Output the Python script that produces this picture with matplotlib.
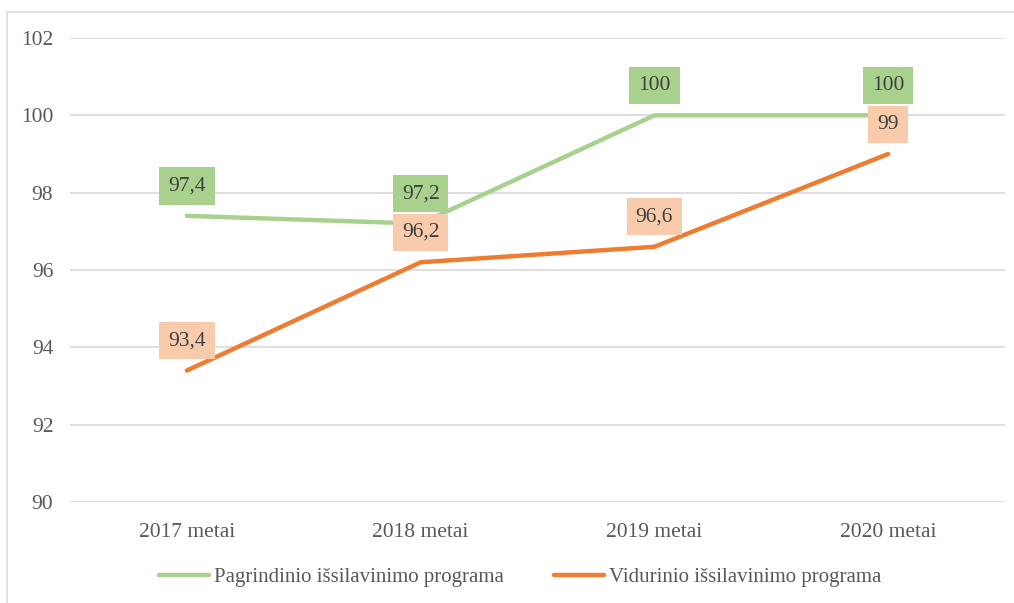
import matplotlib.pyplot as plt
from matplotlib.lines import Line2D

# data
years = ['2017 metai', '2018 metai', '2019 metai', '2020 metai']
pagrindinio = [97.4, 97.2, 100, 100]
vidurinio = [93.4, 96.2, 96.6, 99]
pagr_labels = ['97,4', '97,2', '100', '100']
vid_labels = ['93,4', '96,2', '96,6', '99']

green = '#A9D18E'
orange = '#ED7D31'
orange_box = '#F8CBAD'
grid_col = '#D9D9D9'
tick_col = '#595959'

plt.rcParams['font.family'] = ['Liberation Serif', 'DejaVu Serif']

fig = plt.figure(figsize=(10.14, 6.03), dpi=100)
ax = fig.add_axes([70 / 1014, 1 - 502 / 603, 935 / 1014, 464 / 603])

x = range(len(years))
ax.plot(x, pagrindinio, color=green, lw=3.2, solid_capstyle='round',
        label='Pagrindinio išsilavinimo programa', zorder=3)
ax.plot(x, vidurinio, color=orange, lw=3.2, solid_capstyle='round',
        label='Vidurinio išsilavinimo programa', zorder=3)

for xi, v, t in zip(x, pagrindinio, pagr_labels):
    ax.annotate(t, (xi, v), xytext=(0, 21.5), textcoords='offset points',
                ha='center', va='center', fontsize=15.5, color='#404040', zorder=5,
                bbox=dict(boxstyle='square,pad=0.42', fc=green, ec='none'))
for xi, v, t in zip(x, vidurinio, vid_labels):
    ax.annotate(t, (xi, v), xytext=(0, 21.5), textcoords='offset points',
                ha='center', va='center', fontsize=15.5, color='#404040', zorder=5,
                bbox=dict(boxstyle='square,pad=0.42', fc=orange_box, ec='none'))

ax.set_xlim(-0.5, 3.5)
ax.set_ylim(90, 102)
ax.set_yticks(range(90, 103, 2))
ax.set_xticks(list(x))
ax.set_xticklabels(years)
ax.grid(axis='y', color=grid_col, lw=1.2)
ax.set_axisbelow(True)
for s in ax.spines.values():
    s.set_visible(False)
ax.tick_params(axis='both', length=0, labelsize=15.5, labelcolor=tick_col)
ax.tick_params(axis='y', pad=12)
ax.tick_params(axis='x', pad=15)

fig.legend(loc='center', bbox_to_anchor=(0.513, 1 - 577 / 603), ncol=2,
           frameon=False, fontsize=15, handlelength=2.4, handletextpad=0.25,
           columnspacing=2.4, labelcolor=tick_col)

# outer chart border (left and top)
fig.add_artist(Line2D([7 / 1014, 7 / 1014], [0, 1 - 12 / 603], color=grid_col, lw=1.2))
fig.add_artist(Line2D([7 / 1014, 1], [1 - 12 / 603, 1 - 12 / 603], color=grid_col, lw=1.2))

fig.savefig('out.png', dpi=100)
